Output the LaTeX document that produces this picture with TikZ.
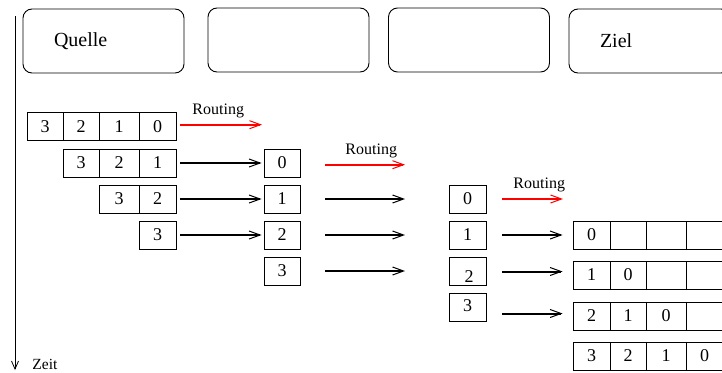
\documentclass[tikz,border=0pt]{standalone}
\usepackage{fontspec}
\setmainfont{Liberation Serif}
\usetikzlibrary{arrows.meta}
\definecolor{froute}{HTML}{FF0000}

\begin{document}
\begin{tikzpicture}[x=1pt, y=-1pt, line width=0.9pt,
    station/.style={draw, rounded corners=9pt, minimum width=161pt, minimum height=64pt,
      text width=99pt, inner xsep=31pt, align=left, font=\fontsize{20}{22}\selectfont},
    cell/.style={draw, minimum height=28pt, inner sep=0pt, font=\fontsize{18}{20}\selectfont},
    flow/.style={-{Straight Barb[length=11pt, width=8pt, line width=1pt]}, line width=2pt},
    route/.style={flow, froute},
    note/.style={font=\fontsize{16}{18}\selectfont, inner sep=0pt, text=black}]
  \useasboundingbox (0,0) rectangle (722,372);

  % the four stations along the path
  \node[station] (quelle) at (103.5,41) {Quelle};
  \node[station] (hop1)   at (288.5,40) {};
  \node[station] (hop2)   at (469,40)   {};
  \node[station] (ziel)   at (649.5,41) {Ziel};

  % time runs downwards
  \coordinate (t0) at (15,16);
  \coordinate (t1) at (15,370);
  \draw[-{Straight Barb[length=8pt, width=7pt]}, line width=0.8pt] (t0) -- (t1);
  \node[font=\fontsize{15.5}{17}\selectfont, anchor=west, inner sep=0pt] (zeit) at (32,364) {Zeit};

  % packets still waiting at the source
  \node[cell, minimum width=36pt] (a3) at (45,126.5)   {3};
  \node[cell, minimum width=36pt] (a2) at (81,126.5)   {2};
  \node[cell, minimum width=40pt] (a1) at (119,126.5)  {1};
  \node[cell, minimum width=37pt] (a0) at (157.5,126.5) {0};
  \node[cell, minimum width=36pt] (b3) at (81,163)     {3};
  \node[cell, minimum width=40pt] (b2) at (119,163)    {2};
  \node[cell, minimum width=37pt] (b1) at (157.5,163)  {1};
  \node[cell, minimum width=40pt] (c3) at (119,199)    {3};
  \node[cell, minimum width=37pt] (c2) at (157.5,199)  {2};
  \node[cell, minimum width=37pt] (d3) at (157.5,235)  {3};

  % packets at the first hop
  \node[cell, minimum width=36pt] (m0) at (282,163) {0};
  \node[cell, minimum width=36pt] (m1) at (282,199) {1};
  \node[cell, minimum width=36pt] (m2) at (282,235) {2};
  \node[cell, minimum width=36pt] (m3) at (282,271) {3};

  % packets at the second hop (2 and 3 sit a little off centre)
  \node[cell, minimum width=37pt] (n0) at (467.5,199)   {0};
  \node[cell, minimum width=37pt] (n1) at (467.5,235)   {1};
  \node[cell, minimum width=37pt, minimum height=28pt] (n2) at (467.5,271.5)
    {\hspace{3pt}\raisebox{-10.5pt}[0pt][0pt]{2}};
  \node[cell, minimum width=37pt, minimum height=28pt] (n3) at (467.5,307.5)
    {\raisebox{-4pt}[0pt][0pt]{3}};

  % packets collected at the destination
  \node[cell, minimum width=37pt] (p0) at (591.5,235) {0};
  \node[cell, minimum width=36pt] (p1) at (628,235)   {};
  \node[cell, minimum width=40pt] (p2) at (666,235)   {};
  \node[cell, minimum width=37pt] (p3) at (704.5,235) {};
  \node[cell, minimum width=37pt] (q0) at (591.5,275) {1};
  \node[cell, minimum width=36pt] (q1) at (628,275)   {0};
  \node[cell, minimum width=40pt] (q2) at (666,275)   {};
  \node[cell, minimum width=37pt] (q3) at (704.5,275) {};
  \node[cell, minimum width=37pt] (r0) at (591.5,316) {2};
  \node[cell, minimum width=36pt] (r1) at (628,316)   {1};
  \node[cell, minimum width=40pt] (r2) at (666,316)   {0};
  \node[cell, minimum width=37pt] (r3) at (704.5,316) {};
  \node[cell, minimum width=37pt] (s0) at (591.5,356) {3};
  \node[cell, minimum width=36pt] (s1) at (628,356)   {2};
  \node[cell, minimum width=40pt] (s2) at (666,356)   {1};
  \node[cell, minimum width=37pt] (s3) at (704.5,356) {0};

  % free ends of the arrows that leave a hop
  \coordinate (e0) at (262,124.7);
  \coordinate (e1) at (405,164.7);
  \coordinate (e2) at (405,199);
  \coordinate (e3) at (405,235);
  \coordinate (e4) at (405,271);
  \coordinate (e5) at (563,199);

  % routing decisions (label centred over the drawn part of the arrow)
  \draw[route, shorten <=4pt] (a0.east |- e0) -- (e0)
    node[note, midway, above=6pt, xshift=-1pt] (rt0) {Routing};
  \draw[route, shorten <=25pt] (m0.east |- e1) -- (e1)
    node[note, midway, above=6pt, xshift=18.5pt] (rt1) {Routing};
  \draw[route, shorten <=16pt] (n0.east) -- (e5)
    node[note, midway, above=6pt, xshift=14.5pt] (rt2) {Routing};

  % forwarding source -> first hop
  \draw[flow, shorten <=4pt, shorten >=2pt] (b1.east) -- (m0.west);
  \draw[flow, shorten <=4pt, shorten >=2pt] (c2.east) -- (m1.west);
  \draw[flow, shorten <=4pt, shorten >=2pt] (d3.east) -- (m2.west);

  % forwarding first hop -> second hop
  \draw[flow, shorten <=25pt] (m1.east) -- (e2);
  \draw[flow, shorten <=25pt] (m2.east) -- (e3);
  \draw[flow, shorten <=25pt] (m3.east) -- (e4);

  % delivery second hop -> destination
  \draw[flow, shorten <=16pt, shorten >=10pt] (n1.east) -- (n1.east -| p0.west);
  \draw[flow, shorten <=16pt, shorten >=10pt] (n2.east) -- (n2.east -| q0.west);
  \draw[flow, shorten <=16pt, shorten >=10pt] ([yshift=-6pt]n3.east) -- ([yshift=-6pt]n3.east -| r0.west);
\end{tikzpicture}
\end{document}
